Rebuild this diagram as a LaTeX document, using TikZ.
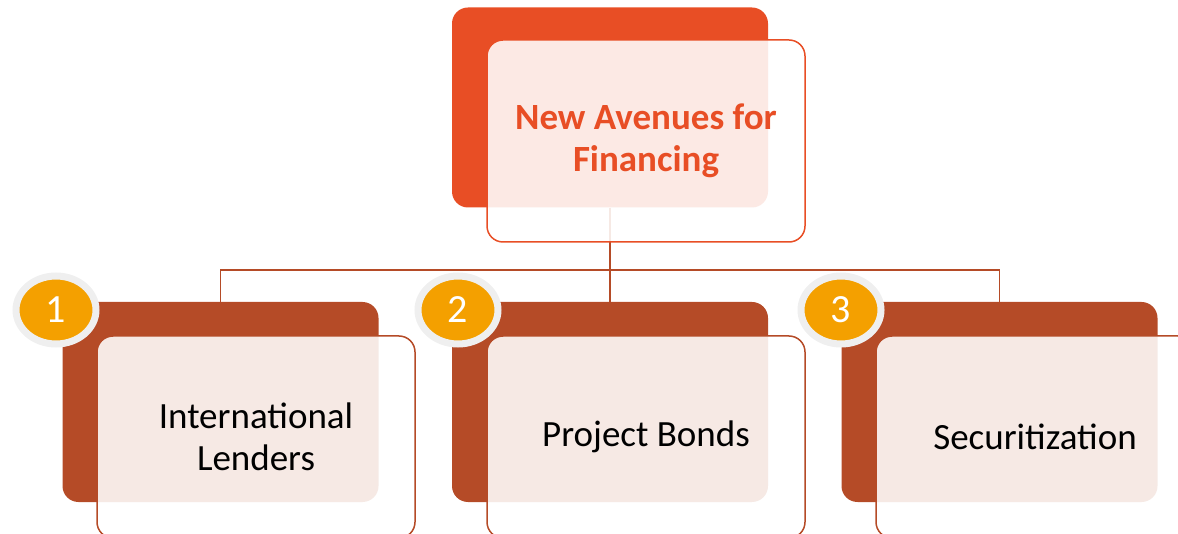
\documentclass[tikz,border=0pt]{standalone}
\usepackage{fontspec}
\setmainfont{Carlito}
\usetikzlibrary{shapes.geometric}
\definecolor{topred}{HTML}{E84E25}
\definecolor{boxred}{HTML}{B54B27}
\definecolor{badgeorange}{HTML}{F4A000}
\definecolor{ringgray}{HTML}{EFEFEF}
\begin{document}
\begin{tikzpicture}[x=1pt,y=-1pt,
    backbox/.style={rectangle,rounded corners=16pt,minimum width=316pt,minimum height=200pt,inner sep=0pt},
    frontbox/.style={rectangle,rounded corners=16pt,minimum width=318pt,minimum height=202pt,
      fill=white,fill opacity=0.88,text opacity=1,draw=#1,line width=1.5pt,align=center,
      font=\fontsize{37}{42}\selectfont},
    badge/.style={ellipse,minimum width=80pt,minimum height=68pt,inner sep=0pt,fill=badgeorange,
      draw=ringgray,line width=7pt,text=white,font=\fontsize{40}{40}\selectfont},
    link/.style={boxred,line width=1.5pt}]
  \useasboundingbox (0,0) rectangle (1178,534);
  \clip (0,0) rectangle (1178,534);
  % back panels
  \node[backbox,fill=topred] (topback) at (610,107.5) {};
  \node[backbox,fill=boxred] (lendback) at (220.5,402) {};
  \node[backbox,fill=boxred] (bondback) at (610,402) {};
  \node[backbox,fill=boxred] (secback) at (999.5,402) {};
  % tree lines
  \foreach \n in {lendback,bondback,secback}
    \draw[link] (topback.south) -- ++(0,62.5) -| (\n.north);
  % front panels
  \node[frontbox=topred,text=topred] (top) at (646,141) {\textbf{New Avenues for}\\\textbf{Financing}};
  \node[frontbox=boxred] (lend) at (256,437) {International\\Lenders};
  \node[frontbox=boxred] (bond) at (646,437) {Project Bonds};
  \node[frontbox=boxred] (sec) at (1035,437) {Securitization};
  % numbers
  \node[badge] (one) at (56,310) {1};
  \node[badge] (two) at (458,310) {2};
  \node[badge] (three) at (841,310) {3};
\end{tikzpicture}
\end{document}
